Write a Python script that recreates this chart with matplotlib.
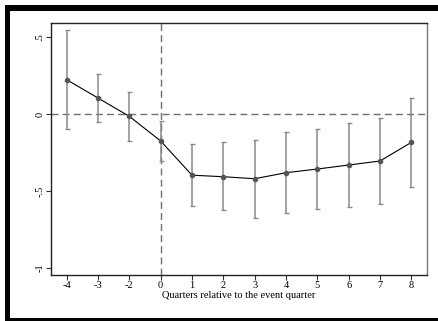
import matplotlib
matplotlib.use("Agg")
import matplotlib.pyplot as plt
from matplotlib.patches import Rectangle

# event-study estimates by quarter relative to the event
quarters = [-4, -3, -2, 0, 1, 2, 3, 4, 5, 6, 7, 8]
coef = [0.223, 0.104, -0.015, -0.175, -0.397, -0.407, -0.420, -0.381,
        -0.357, -0.331, -0.305, -0.184]
ci_low = [-0.099, -0.052, -0.175, -0.307, -0.600, -0.626, -0.673, -0.641,
          -0.617, -0.606, -0.584, -0.474]
ci_high = [0.547, 0.260, 0.141, -0.043, -0.195, -0.184, -0.167, -0.117,
           -0.099, -0.058, -0.026, 0.104]
yticks = [-1, -0.5, 0, 0.5]
ytick_labels = ["-1", "-.5", "0", ".5"]

plt.rcParams["font.family"] = "Liberation Serif"

fig = plt.figure(figsize=(4.39, 3.21), dpi=100)
W, H = 439.0, 321.0

# thick black frame (left, top, bottom)
for (x0, y0, w, h) in [(5, 5, 5, 316), (5, 5, 434, 6), (5, 318, 434, 3)]:
    fig.add_artist(Rectangle((x0 / W, 1 - (y0 + h) / H), w / W, h / H,
                             transform=fig.transFigure, color="black", lw=0))

ax = fig.add_axes([51 / W, 1 - 275 / H, 376 / W, 252 / H])

pos = list(range(len(quarters)))
event_pos = quarters.index(0)

ax.axhline(0, color="#6e6e6e", lw=1.0, ls=(0, (5, 3)), zorder=1)
ax.axvline(event_pos, color="#6e6e6e", lw=1.0, ls=(0, (5, 3)), zorder=1)

err_lo = [c - l for c, l in zip(coef, ci_low)]
err_hi = [h - c for c, h in zip(coef, ci_high)]
ax.errorbar(pos, coef, yerr=[err_lo, err_hi], fmt="none", ecolor="#8a8a8a",
            elinewidth=1.1, capsize=1.8, capthick=1.0, zorder=2)
ax.plot(pos, coef, color="black", lw=0.8, zorder=3)
ax.plot(pos, coef, "o", color="#555555", ms=3, zorder=4)

ax.set_xlim(-0.5, 11.5)
ax.set_ylim(-1.045, 0.591)
ax.set_xticks(pos)
ax.set_xticklabels([str(q) for q in quarters])
ax.set_yticks(yticks)
ax.set_yticklabels(ytick_labels, rotation=90, va="center")
ax.tick_params(axis="both", labelsize=7.5, length=3.5, width=0.8,
               color="#333333", pad=1)
ax.tick_params(axis="x", pad=0.5)
ax.set_xlabel("Quarters relative to the event quarter", fontsize=7.5,
              labelpad=1)

for side in ["left", "bottom", "top"]:
    ax.spines[side].set_color("#222222")
    ax.spines[side].set_linewidth(1.0)
ax.spines["right"].set_color("#777777")
ax.spines["right"].set_linewidth(1.0)

fig.savefig("out.png", dpi=100)
